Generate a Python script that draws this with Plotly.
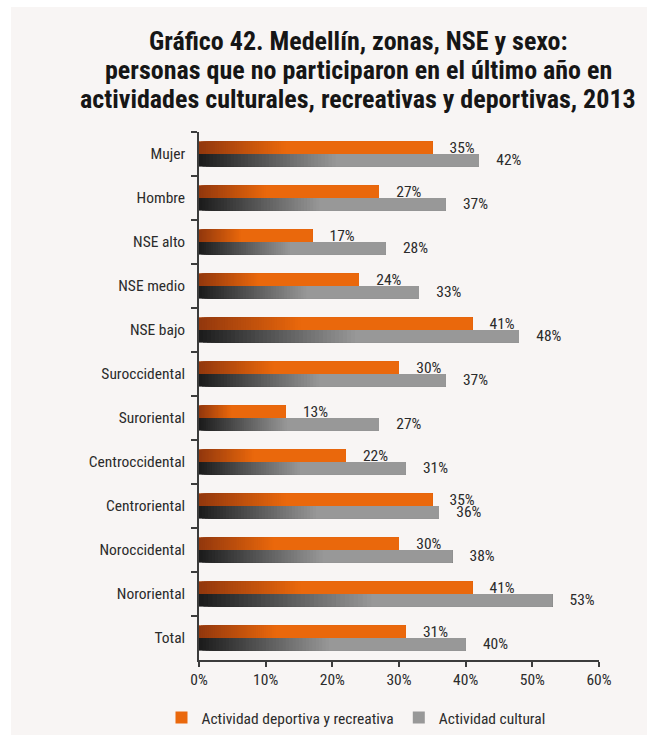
import numpy as np
import plotly.graph_objects as go

# Categories (top to bottom) and percentages for each series
categorias = [
    "Mujer", "Hombre", "NSE alto", "NSE medio", "NSE bajo", "Suroccidental",
    "Suroriental", "Centroccidental", "Centroriental", "Noroccidental",
    "Nororiental", "Total",
]
deportiva = [35, 27, 17, 24, 41, 30, 13, 22, 35, 30, 41, 31]
cultural = [42, 37, 28, 33, 48, 37, 27, 31, 36, 38, 53, 40]

x_tickvals = [0, 10, 20, 30, 40, 50, 60]
x_ticktext = ["0%", "10%", "20%", "30%", "40%", "50%", "60%"]

titulo = [
    "Gráfico 42. Medellín, zonas, NSE y sexo:",
    "personas que no participaron en el último año en",
    "actividades culturales, recreativas y deportivas, 2013",
]

FONT = "Liberation Sans Narrow, Arial Narrow, Roboto Condensed, Roboto, Liberation Sans, sans-serif"
TEXT_COLOR = "#2b2b2b"
FS = 15.5

series = [
    dict(name="Actividad deportiva y recreativa", values=deportiva, group="dep",
         base="#ea680c", dark="#93380d", span=0.38),
    dict(name="Actividad cultural", values=cultural, group="cul",
         base="#989898", dark="#1c1c1c", span=0.5),
]

N_STEPS = 40


def hex_to_rgb(h):
    h = h.lstrip("#")
    return np.array([int(h[i:i + 2], 16) for i in (0, 2, 4)], dtype=float)


def mix(c0, c1, t):
    r, g, b = (hex_to_rgb(c0) * (1 - t) + hex_to_rgb(c1) * t).round().astype(int)
    return f"rgb({r},{g},{b})"


fig = go.Figure()

for s in series:
    vals = np.array(s["values"], dtype=float)
    zone = vals * s["span"]
    # Full bar in the series colour
    fig.add_trace(go.Bar(
        y=categorias, x=vals, orientation="h", name=s["name"],
        offsetgroup=s["group"], marker=dict(color=s["base"], line=dict(width=0)),
        hovertemplate="%{y}: %{x}%<extra></extra>",
    ))
    # Dark-to-light shading: layered bars, each starting a bit further right
    # and running to the bar's value, getting lighter layer by layer
    for k in range(N_STEPS):
        start = zone * k / N_STEPS
        fig.add_trace(go.Bar(
            y=categorias, x=vals - start, base=start, orientation="h",
            offsetgroup=s["group"], showlegend=False, hoverinfo="skip",
            marker=dict(color=mix(s["dark"], s["base"], k / (N_STEPS - 1)),
                        line=dict(width=0)),
        ))

# Value labels on top of everything
pad = "\u00a0" * 4
for s in series:
    fig.add_trace(go.Bar(
        y=categorias, x=s["values"], orientation="h", offsetgroup=s["group"],
        showlegend=False, hoverinfo="skip",
        marker=dict(color="rgba(0,0,0,0)", line=dict(width=0)),
        text=[f"{pad}{v}%" for v in s["values"]], textposition="outside",
        constraintext="none", textangle=0,
        textfont=dict(family=FONT, size=FS, color=TEXT_COLOR),
        cliponaxis=False,
    ))

W, H = 647, 735
ML, MR, MT, MB = 199, 48, 132, 75
pw, ph = W - ML - MR, H - MT - MB


def px_x(p):
    return (p - ML) / pw


def px_y(p):
    return (H - MB - p) / ph


title_y = [41, 70, 99]

fig.update_layout(
    width=W, height=H,
    margin=dict(l=ML, r=MR, t=MT, b=MB, pad=0, autoexpand=False),
    barmode="group", bargap=0.43, bargroupgap=0,
    paper_bgcolor="white", plot_bgcolor="rgba(0,0,0,0)",
    font=dict(family=FONT, size=FS, color=TEXT_COLOR),
    showlegend=True,
    legend=dict(
        orientation="h", xref="container", yref="container",
        x=356 / W, xanchor="center", y=1 - 718 / H, yanchor="middle",
        font=dict(family=FONT, size=FS, color=TEXT_COLOR), bgcolor="rgba(0,0,0,0)",
        itemsizing="constant",
    ),
    xaxis=dict(
        range=[0, 60], tickvals=x_tickvals, ticktext=x_ticktext,
        showgrid=False, zeroline=False, showline=True, linecolor="#3c3c3c", linewidth=1.5,
        ticks="outside", ticklen=5, tickcolor="#3c3c3c", tickwidth=1.5,
        tickfont=dict(family=FONT, size=FS, color=TEXT_COLOR), fixedrange=True,
    ),
    yaxis=dict(
        categoryorder="array", categoryarray=categorias, autorange="reversed",
        showgrid=False, zeroline=False, showline=True, linecolor="#3c3c3c", linewidth=1.5,
        ticks="outside", tickson="boundaries", ticklen=6, tickcolor="#3c3c3c", tickwidth=1.5,
        ticklabelstandoff=9,
        tickfont=dict(family=FONT, size=FS, color=TEXT_COLOR), fixedrange=True,
    ),
    shapes=[dict(
        type="rect", xref="paper", yref="paper", layer="below",
        x0=px_x(11), x1=px_x(W + 2), y0=px_y(H + 2), y1=px_y(7),
        fillcolor="#f8f5f4", line=dict(width=0),
    )],
    annotations=[
        dict(
            text=f"<b>{line}</b>", xref="paper", yref="paper",
            x=px_x(358), y=px_y(yy), xanchor="center", yanchor="middle",
            showarrow=False, align="center",
            font=dict(family=FONT, size=26, color="#161616"),
        )
        for line, yy in zip(titulo, title_y)
    ],
)

fig.write_html("out.html")
